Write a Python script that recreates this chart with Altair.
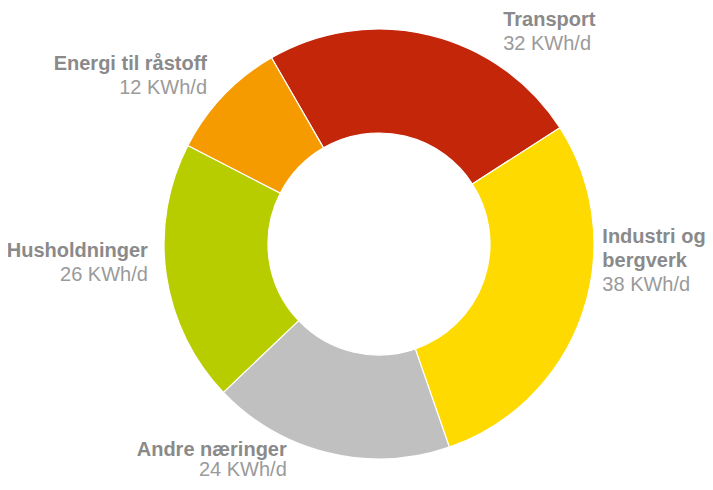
import math
import altair as alt
import pandas as pd

categories = ["Transport", "Industri og\nbergverk", "Andre næringer", "Husholdninger", "Energi til råstoff"]
values = [32, 38, 24, 26, 12]
value_labels = ["32 KWh/d", "38 KWh/d", "24 KWh/d", "26 KWh/d", "12 KWh/d"]
colors = ["#C4260A", "#FEDA00", "#C0C0C0", "#B7CD00", "#F59B00"]

df = pd.DataFrame({
    "category": categories,
    "value": values,
    "label": value_labels,
    "order": list(range(len(categories))),
})

total = sum(values)
start = -math.pi / 6
theta_scale = alt.Scale(domain=[0, total], range=[start, start + 2 * math.pi])

CX, CY = 371, 236
R_IN, R_OUT, R_LABEL = 111, 215, 230
NAME_COLOR = "#8a8a8a"
VALUE_COLOR = "#9a9a9a"
FONT = "Liberation Sans"

# layout: align, dx, dy of first line (alphabetic baseline), line height
layout = {
    "Transport": ("left", 70, 5.5, 24),
    "Industri og\nbergverk": ("left", 6, -76, 24),
    "Andre næringer": ("right", -38, -11.5, 20),
    "Husholdninger": ("right", -3.5, -19.5, 24),
    "Energi til råstoff": ("right", -5.5, -15.3, 24),
}

base = alt.Chart(df)

arc = base.mark_arc(innerRadius=R_IN, outerRadius=R_OUT, stroke="white", strokeWidth=1.2).encode(
    theta=alt.Theta("value:Q", stack=True, scale=theta_scale),
    order=alt.Order("order:Q"),
    color=alt.Color("category:N", scale=alt.Scale(domain=categories, range=colors), legend=None),
    x=alt.value(CX),
    y=alt.value(CY),
)

mid_base = base.transform_window(
    cum="sum(value)", sort=[alt.SortField("order")]
).transform_calculate(
    mid="datum.cum - datum.value / 2"
)

layers = [arc]
for cat in categories:
    align, dx, dy, lh = layout[cat]
    name_lines = cat.split("\n")
    sub = mid_base.transform_filter(alt.datum.category == cat)
    lines = [(i, "name") for i in range(len(name_lines))] + [(len(name_lines), "value")]
    for i, kind in lines:
        if kind == "name":
            t = sub.transform_calculate(txt=f"split(datum.category, '\\n')[{i}]")
            mk = dict(fontWeight="bold", color=NAME_COLOR)
        else:
            t = sub.transform_calculate(txt="datum.label")
            mk = dict(fontWeight="normal", color=VALUE_COLOR)
        layers.append(
            t.mark_text(
                align=align, baseline="alphabetic", dx=dx, dy=dy + i * lh,
                font=FONT, fontSize=20, **mk
            ).encode(
                theta=alt.Theta("mid:Q", stack=False, scale=theta_scale),
                radius=alt.value(R_LABEL),
                text="txt:N",
                x=alt.value(CX),
                y=alt.value(CY),
            )
        )

chart = alt.layer(*layers).properties(
    width=697, height=474, padding=0, autosize="none"
).configure_view(stroke=None)

chart.save("out.html", embed_options={"renderer": "svg", "actions": False})
